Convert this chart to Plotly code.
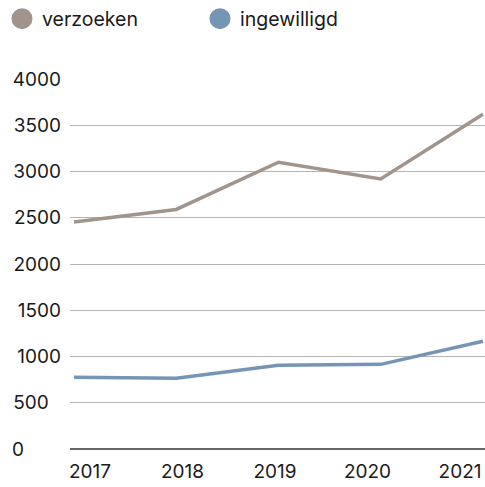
import plotly.graph_objects as go

years = ["2017", "2018", "2019", "2020", "2021"]
verzoeken = [2455, 2590, 3100, 2920, 3620]
ingewilligd = [775, 765, 905, 915, 1165]
y_ticks = [0, 500, 1000, 1500, 2000, 2500, 3000, 3500, 4000]

C_V = "#a0948c"
C_I = "#7595b6"
FONT = "Inter"
FS = 19

idx = list(range(len(years)))
# left-aligned look: pad with figure spaces (digit-width)
y_ticktext = [str(v) + "\u2007" * (4 - len(str(v))) for v in y_ticks]

fig = go.Figure()
# anchor trace for the labelled x axis
fig.add_trace(go.Scatter(x=idx, y=[None] * len(idx), mode="lines", xaxis="x", yaxis="y",
                         showlegend=False, hoverinfo="skip"))
fig.add_trace(go.Scatter(x=idx, y=verzoeken, mode="lines", line=dict(color=C_V, width=3.5),
                         xaxis="x2", yaxis="y", showlegend=False, hoverinfo="skip"))
fig.add_trace(go.Scatter(x=idx, y=ingewilligd, mode="lines", line=dict(color=C_I, width=3.5),
                         xaxis="x2", yaxis="y", showlegend=False, hoverinfo="skip"))
# legend entries (circles)
fig.add_trace(go.Scatter(x=[None], y=[None], mode="markers", name="verzoeken",
                         marker=dict(color=C_V, size=16, symbol="circle", line=dict(color=C_V, width=5)),
                         xaxis="x2"))
fig.add_trace(go.Scatter(x=[None], y=[None], mode="markers", name="ingewilligd",
                         marker=dict(color=C_I, size=16, symbol="circle", line=dict(color=C_I, width=5)),
                         xaxis="x2"))

W, H = 485, 487
ML, MT = 70, 48
PH = H - MT
PW = W - ML
ydom = [(H - 449.74) / PH, (H - 78.26) / PH]
fig.update_layout(
    width=W, height=H,
    margin=dict(l=ML, r=0, t=MT, b=0, autoexpand=False),
    paper_bgcolor="white", plot_bgcolor="white",
    font=dict(family=FONT, size=FS, color="#1a1a1a"),
    showlegend=True,
    hovermode=False,
    legend=dict(orientation="h", x=(2 - ML) / PW, y=1 + (MT - 19) / PH, xanchor="left", yanchor="middle",
                entrywidth=153, entrywidthmode="pixels", itemsizing="trace",
                bgcolor="rgba(0,0,0,0)",
                font=dict(family=FONT, size=19.5, color="#1a1a1a")),
    xaxis=dict(domain=[0, 1], range=[-0.216, 4.27], tickmode="array",
               tickvals=idx, ticktext=years, showgrid=False, zeroline=False,
               showline=False, ticks="", ticklabelstandoff=8, automargin=False),
    xaxis2=dict(domain=[0, 1], range=[-0.039, 4.02], overlaying="x", visible=False),
    yaxis=dict(domain=ydom, range=[-8, 4008], tickmode="array", tickvals=y_ticks,
               ticktext=y_ticktext,
               showgrid=True, gridcolor="#b4b4b4", gridwidth=1,
               zeroline=True, zerolinecolor="#666666", zerolinewidth=2,
               showline=False, ticks="", ticklabelstandoff=8, automargin=False),
)

fig.write_html("out.html",
               config={"displayModeBar": False},
               post_script="document.body.style.margin='0';document.body.style.overflow='hidden';")
